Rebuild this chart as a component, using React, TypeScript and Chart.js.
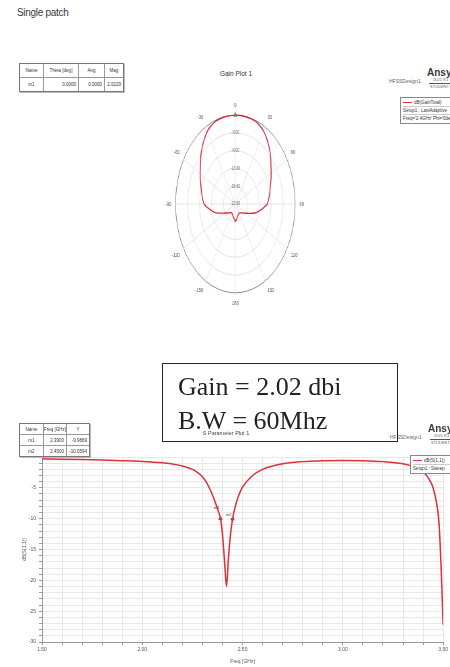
import React, { useEffect, useRef } from "react";
import { Chart, registerables } from "chart.js";

Chart.register(...registerables);

const FONT = "'Liberation Sans', Arial, sans-serif";

// ---------- Polar gain plot (Gain Plot 1) ----------
const thetaDeg: number[] = [
  0, 5, 10, 15, 20, 25, 30, 35, 40, 45, 50, 55, 60, 65, 70, 75, 80, 85, 90,
  95, 100, 105, 110, 115, 120, 125, 130, 135, 140, 145, 150, 155, 160, 165, 170, 175, 180,
  -175, -170, -165, -160, -155, -150, -145, -140, -135, -130, -125, -120, -115, -110, -105, -100, -95,
  -90, -85, -80, -75, -70, -65, -60, -55, -50, -45, -40, -35, -30, -25, -20, -15, -10, -5,
];
const gainDb: number[] = [
  2.02, 1.99, 1.94, 1.86, 1.72, 1.26, 0.7, -0.3, -1.35, -2.45, -3.65, -4.8, -5.7, -6.55, -7.35, -8.0, -8.55, -9.05, -9.65,
  -11.1, -12.5, -13.8, -15.35, -16.75, -17.8, -18.5, -19.0, -19.45, -19.75, -19.95, -20.0, -19.88, -19.63, -19.33, -19.0, -18.55, -18.15,
  -18.6, -19.05, -19.38, -19.68, -19.92, -20.05, -20.02, -19.82, -19.52, -19.08, -18.58, -17.9, -16.9, -15.52, -13.97, -12.72, -11.32,
  -9.9, -9.32, -8.82, -8.27, -7.65, -6.85, -6.02, -5.15, -4.02, -2.77, -1.65, -0.52, 0.56, 1.18, 1.68, 1.84, 1.92, 1.97,
];
const radialMin = -23;
const radialMax = 2;
const radialStep = 5;

// ---------- S Parameter Plot 1 ----------
const freqGHz: number[] = [
  1.5, 1.6, 1.7, 1.8, 1.9, 2.0, 2.1, 2.15, 2.2, 2.25, 2.28, 2.3, 2.32, 2.34, 2.36, 2.38, 2.39, 2.4, 2.41, 2.42,
  2.43, 2.44, 2.45, 2.46, 2.48, 2.5, 2.55, 2.6, 2.7, 2.8, 2.9, 3.0, 3.1, 3.2, 3.3, 3.35, 3.4, 3.43, 3.45, 3.47,
  3.48, 3.49, 3.5,
];
const s11Db: number[] = [
  -0.3, -0.35, -0.42, -0.5, -0.6, -0.72, -0.95, -1.15, -1.45, -2.0, -2.6, -3.2, -4.1, -5.4, -7.0, -8.9, -9.99, -12.6, -16.8, -21.0,
  -16.2, -12.5, -10.06, -8.5, -6.3, -4.9, -3.0, -2.0, -1.1, -0.75, -0.6, -0.55, -0.6, -0.75, -1.1, -1.5, -2.4, -3.6, -5.0, -8.0,
  -11.0, -18.0, -27.2,
];
const markerNames: string[] = ["m1", "m2"];
const markerFreqGHz: number[] = [2.39, 2.45];
const markerS11Db: number[] = [-9.9869, -10.0594];
const xMin = 1.5;
const xMax = 3.5;
const yMin = -30;
const yMax = 0;

function PolarChart() {
  const ref = useRef<HTMLCanvasElement>(null);
  useEffect(() => {
    const chart = new Chart(ref.current as HTMLCanvasElement, {
      type: "radar",
      data: {
        labels: thetaDeg.map(String),
        datasets: [
          {
            label: "dB(GainTotal)",
            data: gainDb,
            borderColor: "#d42f3d",
            borderWidth: 1.4,
            fill: false,
            tension: 0.25,
            pointRadius: (c: any) => (c.dataIndex === 0 ? 2 : 0),
            pointStyle: "triangle",
            pointBackgroundColor: "#777",
            pointBorderColor: "#777",
          } as any,
        ],
      },
      options: {
        animation: false,
        responsive: false,
        devicePixelRatio: 1,
        plugins: { legend: { display: false }, tooltip: { enabled: false } },
        scales: {
          r: {
            min: radialMin,
            max: radialMax,
            ticks: {
              stepSize: radialStep,
              showLabelBackdrop: false,
              backdropPadding: 0,
              font: { size: 5, family: FONT },
              color: "#666",
              callback: (v: any) => (v >= radialMax ? "" : Number(v).toFixed(2)),
            },
            grid: {
              circular: true,
              color: (c: any) => (c.tick && c.tick.value >= radialMax ? "#8c8c8c" : "#e3e3e3"),
              lineWidth: 1,
            },
            angleLines: {
              color: (c: any) => (c.index % 6 === 0 ? "#e6e6e6" : "rgba(0,0,0,0)"),
              lineWidth: (c: any) => (c.index % 6 === 0 ? 1 : 0),
            },
            pointLabels: {
              font: { size: 6, family: FONT },
              color: "#555",
              padding: 4,
              callback: (label: string, index: number) => (index % 6 === 0 ? label : ""),
            },
          } as any,
        },
      },
    });
    return () => chart.destroy();
  }, []);
  return (
    <canvas
      ref={ref}
      width={208}
      height={212}
      style={{
        position: "absolute",
        left: 131,
        top: 98,
        transform: "scaleX(0.673)",
        transformOrigin: "105px 106px",
      }}
    />
  );
}

const markerLabelPlugin = {
  id: "markerLabels",
  afterDatasetsDraw(chart: any) {
    const meta = chart.getDatasetMeta(1);
    const ctx = chart.ctx;
    ctx.save();
    ctx.font = `4px ${FONT}`;
    ctx.fillStyle = "#444";
    ctx.textAlign = "right";
    ctx.textBaseline = "middle";
    meta.data.forEach((pt: any, i: number) => {
      ctx.fillText(markerNames[i], pt.x - 1, pt.y - (i === 0 ? 11 : 4));
    });
    ctx.restore();
  },
};

function SParamChart() {
  const ref = useRef<HTMLCanvasElement>(null);
  useEffect(() => {
    const tickFont = { size: 5, family: FONT };
    const chart = new Chart(ref.current as HTMLCanvasElement, {
      type: "line",
      data: {
        datasets: [
          {
            label: "dB(S(1,1))",
            data: freqGHz.map((f, i) => ({ x: f, y: s11Db[i] })),
            borderColor: "#e0303a",
            borderWidth: 1.5,
            pointRadius: 0,
            cubicInterpolationMode: "monotone",
            fill: false,
          } as any,
          {
            label: "markers",
            data: markerFreqGHz.map((f, i) => ({ x: f, y: markerS11Db[i] })),
            showLine: false,
            pointStyle: "triangle",
            pointRadius: 2,
            pointBackgroundColor: "#666",
            pointBorderColor: "#666",
          } as any,
        ],
      },
      options: {
        animation: false,
        responsive: false,
        devicePixelRatio: 1,
        layout: { padding: { top: 17, right: 5, left: 0, bottom: 0 } },
        plugins: { legend: { display: false }, tooltip: { enabled: false } },
        scales: {
          x: {
            type: "linear",
            min: xMin,
            max: xMax,
            afterFit: (s: any) => {
              s.height = 25;
            },
            ticks: {
              stepSize: 0.1,
              autoSkip: false,
              maxRotation: 0,
              padding: 2,
              font: tickFont,
              color: "#555",
              callback: (v: any) => {
                const n = Number(v);
                return Math.abs(n * 2 - Math.round(n * 2)) < 1e-6 ? n.toFixed(2) : "";
              },
            },
            grid: { color: "#e8e8e8", tickLength: 3, tickColor: "#999" },
            border: { color: "#999" },
            title: {
              display: true,
              text: "Freq [GHz]",
              font: tickFont,
              color: "#555",
              padding: { top: 0, bottom: 2 },
            },
          } as any,
          y: {
            min: yMin,
            max: yMax,
            afterFit: (s: any) => {
              s.width = 42;
            },
            ticks: {
              stepSize: 1,
              autoSkip: false,
              padding: 3,
              font: tickFont,
              color: "#555",
              callback: (v: any) => (Math.round(Number(v)) % 5 === 0 ? String(Math.round(Number(v))) : ""),
            },
            grid: { color: "#e8e8e8", tickLength: 3, tickColor: "#999" },
            border: { color: "#999" },
            title: {
              display: true,
              text: "dB(S(1,1))",
              font: tickFont,
              color: "#555",
              padding: { top: 22, bottom: 0 },
            },
          } as any,
        },
      },
      plugins: [markerLabelPlugin as any],
    });
    return () => chart.destroy();
  }, []);
  return (
    <canvas ref={ref} width={450} height={227} style={{ position: "absolute", left: 0, top: 440 }} />
  );
}

function Txt(props: { left: number; top: number; size: number; text: string; bold?: boolean; color?: string; width?: number; align?: any; family?: string; spacing?: number }) {
  return (
    <div
      style={{
        position: "absolute",
        left: props.left,
        top: props.top,
        width: props.width,
        textAlign: props.align || "left",
        fontSize: props.size,
        lineHeight: 1,
        fontWeight: props.bold ? 700 : 400,
        color: props.color || "#333",
        fontFamily: props.family || FONT,
        whiteSpace: "nowrap",
        letterSpacing: props.spacing,
      }}
    >
      {props.text}
    </div>
  );
}

function MarkerTable(props: { left: number; top: number; widths: number[]; rows: string[][]; rowH: number }) {
  return (
    <div
      style={{
        position: "absolute",
        left: props.left,
        top: props.top,
        border: "1px solid #777",
        background: "#fff",
        boxShadow: "1px 1px 0 #bbb",
        fontFamily: FONT,
        fontSize: 4.5,
        color: "#333",
      }}
    >
      {props.rows.map((r, ri) => (
        <div key={ri} style={{ display: "flex", height: props.rowH, borderTop: ri ? "1px solid #999" : "none" }}>
          {r.map((c, ci) => (
            <div
              key={ci}
              style={{
                width: props.widths[ci],
                borderLeft: ci ? "1px solid #999" : "none",
                display: "flex",
                alignItems: "center",
                justifyContent: ri === 0 || ci === 0 ? "center" : "flex-end",
                paddingRight: ri > 0 && ci > 0 ? 2 : 0,
                boxSizing: "border-box",
                whiteSpace: "nowrap",
                overflow: "hidden",
              }}
            >
              {c}
            </div>
          ))}
        </div>
      ))}
    </div>
  );
}

function AnsysBadge(props: { left: number; top: number }) {
  const { left, top } = props;
  return (
    <>
      <Txt left={left - 38} top={top + 11} size={5} text="HFSSDesign1" color="#666" />
      <Txt left={left} top={top} size={10} bold text="Ansys" color="#3a3a3a" />
      <Txt left={left + 6} top={top + 10} size={4} text="2021 R1" color="#666" />
      <div style={{ position: "absolute", left: left + 2, top: top + 15, width: 30, height: 1, background: "#555" }} />
      <Txt left={left + 3} top={top + 17} size={4} text="STUDENT" color="#666" />
    </>
  );
}

function LegendBox(props: { left: number; top: number; lines: string[] }) {
  return (
    <div
      style={{
        position: "absolute",
        left: props.left,
        top: props.top,
        width: 80,
        border: "1px solid #888",
        background: "#fff",
        fontFamily: FONT,
        fontSize: 4.5,
        color: "#333",
        padding: "1px 2px",
      }}
    >
      {props.lines.map((l, i) => (
        <div key={i} style={{ height: 7, display: "flex", alignItems: "center", whiteSpace: "nowrap", borderTop: i ? "1px solid #ccc" : "none" }}>
          {i === 0 && <span style={{ display: "inline-block", width: 9, height: 1.5, background: "#e0303a", marginRight: 2 }} />}
          {l}
        </div>
      ))}
    </div>
  );
}

export default function App() {
  useEffect(() => {
    document.body.style.margin = "0";
  }, []);
  return (
    <div style={{ position: "relative", width: 450, height: 667, overflow: "hidden", background: "#fff" }}>
      <Txt left={17} top={8} size={10} text="Single patch" color="#3a3a3a" spacing={-0.3} />

      <MarkerTable
        left={19}
        top={63}
        widths={[23, 35, 26, 19]}
        rowH={13}
        rows={[
          ["Name", "Theta [deg]", "Ang", "Mag"],
          ["m1", "0.0000", "0.0000", "2.0229"],
        ]}
      />
      <Txt left={186} top={71} width={100} align="center" size={6.5} text="Gain Plot 1" />
      <AnsysBadge left={427} top={68} />
      <LegendBox left={400} top={97} lines={["dB(GainTotal)", "Setup1 : LastAdaptive", "Freq='2.4GHz' Phi='0deg'"]} />

      <PolarChart />

      <SParamChart />
      <MarkerTable
        left={19}
        top={423}
        widths={[23, 23, 23]}
        rowH={10}
        rows={[
          ["Name", "Freq [GHz]", "Y"],
          ["m1", "2.3900", "-9.9869"],
          ["m2", "2.4500", "-10.0594"],
        ]}
      />
      <Txt left={176} top={431} width={100} align="center" size={5.5} text="S Parameter Plot 1" color="#444" />
      <AnsysBadge left={428} top={424} />
      <LegendBox left={410} top={455} lines={["dB(S(1,1))", "Setup1 : Sweep"]} />

      <div
        style={{
          position: "absolute",
          left: 162,
          top: 363,
          width: 236,
          height: 79,
          boxSizing: "border-box",
          border: "1.5px solid #222",
          fontFamily: "'Liberation Serif', 'Times New Roman', serif",
          fontSize: 26,
          lineHeight: "34px",
          color: "#222",
          paddingLeft: 15,
          paddingTop: 6,
        }}
      >
        <div style={{ whiteSpace: "nowrap" }}>Gain = 2.02 dbi</div>
        <div style={{ whiteSpace: "nowrap" }}>B.W = 60Mhz</div>
      </div>
    </div>
  );
}
